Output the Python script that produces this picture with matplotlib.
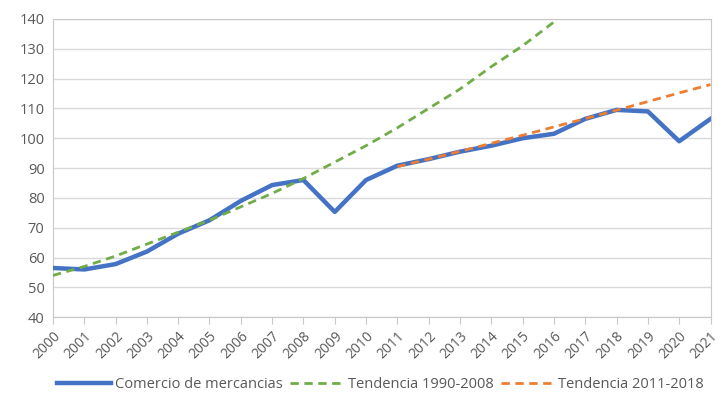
import matplotlib.pyplot as plt

years = list(range(2000, 2022))
comercio = [56.5, 56.0, 57.8, 62.0, 68.0, 72.5, 79.0, 84.3, 86.0, 75.3, 86.0,
            90.8, 93.0, 95.5, 97.5, 100.0, 101.5, 106.5, 109.5, 109.0, 99.0, 106.5]

tend_years_1 = list(range(2000, 2017))
tendencia_1990_2008 = [54.0, 57.0, 60.5, 64.5, 68.5, 72.5, 77.0, 81.5, 86.5, 92.0,
                       97.5, 103.5, 110.0, 116.5, 124.0, 131.0, 139.0]

tend_years_2 = list(range(2011, 2022))
tendencia_2011_2018 = [90.5, 93.0, 95.6, 98.3, 101.0, 103.8, 106.6, 109.4, 112.3, 115.2, 118.0]

plt.rcParams['font.family'] = ['Open Sans', 'DejaVu Sans']

fig = plt.figure(figsize=(7.25, 3.95), dpi=100)
ax = fig.add_axes([0.073, 0.197, 0.907, 0.755])

ax.plot(years, comercio, color='#4472C4', lw=3.2, label='Comercio de mercancias', zorder=3)
ax.plot(tend_years_1, tendencia_1990_2008, color='#70AD47', lw=2, ls=(0, (3, 2)),
        label='Tendencia 1990-2008', zorder=4)
ax.plot(tend_years_2, tendencia_2011_2018, color='#ED7D31', lw=2, ls=(0, (3, 2)),
        label='Tendencia 2011-2018', zorder=4)

ax.set_xlim(2000, 2021)
ax.set_ylim(40, 140)
ax.set_yticks(range(40, 141, 10))
ax.set_xticks(years)
ax.set_xticklabels([str(y) for y in years], rotation=45, ha='right', rotation_mode='anchor')

ax.grid(axis='y', color='#D9D9D9', lw=1)
ax.set_axisbelow(True)
for s in ax.spines.values():
    s.set_color('#C8C8C8')
ax.tick_params(axis='y', length=0, labelsize=10.5, labelcolor='#595959', pad=6)
ax.tick_params(axis='x', length=5, color='#C8C8C8', labelsize=10, labelcolor='#595959', pad=3)

fig.legend(loc='lower center', ncol=3, frameon=False, fontsize=10.5, labelcolor='#595959',
           bbox_to_anchor=(0.525, -0.025), handlelength=3.7, columnspacing=0.5, handletextpad=0.25)

fig.savefig('out.png', dpi=100)
